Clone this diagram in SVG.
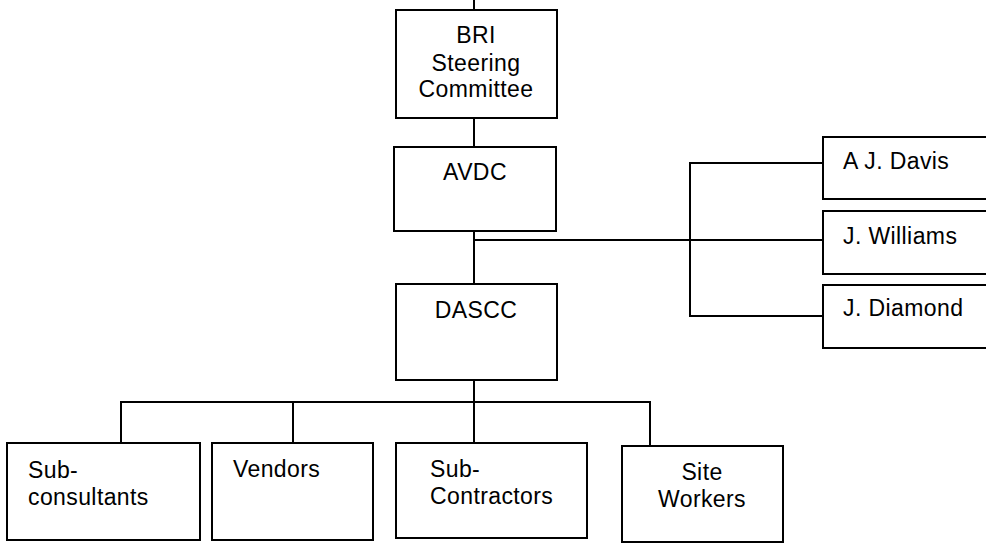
<svg xmlns="http://www.w3.org/2000/svg" width="986" height="543" viewBox="0 0 986 543">
  <style>
    .box { fill: #ffffff; stroke: #000000; stroke-width: 2; }
    .wire { fill: none; stroke: #000000; stroke-width: 2; }
    text { font-family: "Liberation Sans", Arial, sans-serif; font-size: 23px; letter-spacing: 0.4px; fill: #000000; }
    .mid { text-anchor: middle; }
  </style>
  <rect width="986" height="543" fill="#ffffff"/>

  <g id="connectors">
    <!-- feed into the steering committee -->
    <line class="wire" x1="474" y1="0" x2="474" y2="10"/>
    <!-- steering committee to AVDC -->
    <line class="wire" x1="474" y1="118" x2="474" y2="146"/>
    <!-- AVDC to DASCC -->
    <line class="wire" x1="474" y1="231" x2="474" y2="285"/>
    <!-- branch to the individual advisers -->
    <line class="wire" x1="474" y1="240" x2="823" y2="240"/>
    <polyline class="wire" points="823,163 690,163 690,316 823,316"/>
    <!-- DASCC down to the delivery tier -->
    <line class="wire" x1="474" y1="366" x2="474" y2="443"/>
    <polyline class="wire" points="121,443 121,402 650,402 650,446"/>
    <line class="wire" x1="293" y1="402" x2="293" y2="443"/>
  </g>

  <g id="bri">
    <rect class="box" x="396" y="10" width="161" height="108"/>
    <text class="mid" x="476" y="43">BRI</text>
    <text class="mid" x="476" y="71">Steering</text>
    <text class="mid" x="476" y="97">Committee</text>
  </g>

  <g id="avdc">
    <rect class="box" x="394" y="147" width="162" height="84"/>
    <text class="mid" x="475" y="180">AVDC</text>
  </g>

  <g id="dascc">
    <rect class="box" x="396" y="284" width="161" height="96"/>
    <text class="mid" x="476" y="318">DASCC</text>
  </g>

  <g id="davis">
    <rect class="box" x="823" y="137" width="170" height="62"/>
    <text x="843" y="169">A J. Davis</text>
  </g>

  <g id="williams">
    <rect class="box" x="823" y="211" width="170" height="63"/>
    <text x="843" y="244">J. Williams</text>
  </g>

  <g id="diamond">
    <rect class="box" x="823" y="285" width="170" height="63"/>
    <text x="843" y="316">J. Diamond</text>
  </g>

  <g id="subconsultants">
    <rect class="box" x="7" y="443" width="193" height="97"/>
    <text x="28" y="478">Sub-</text>
    <text x="28" y="505">consultants</text>
  </g>

  <g id="vendors">
    <rect class="box" x="212" y="443" width="161" height="97"/>
    <text x="233" y="477">Vendors</text>
  </g>

  <g id="subcontractors">
    <rect class="box" x="396" y="443" width="191" height="95"/>
    <text x="430" y="477">Sub-</text>
    <text x="430" y="504">Contractors</text>
  </g>

  <g id="siteworkers">
    <rect class="box" x="622" y="446" width="161" height="96"/>
    <text class="mid" x="702" y="480">Site</text>
    <text class="mid" x="702" y="507">Workers</text>
  </g>
</svg>
